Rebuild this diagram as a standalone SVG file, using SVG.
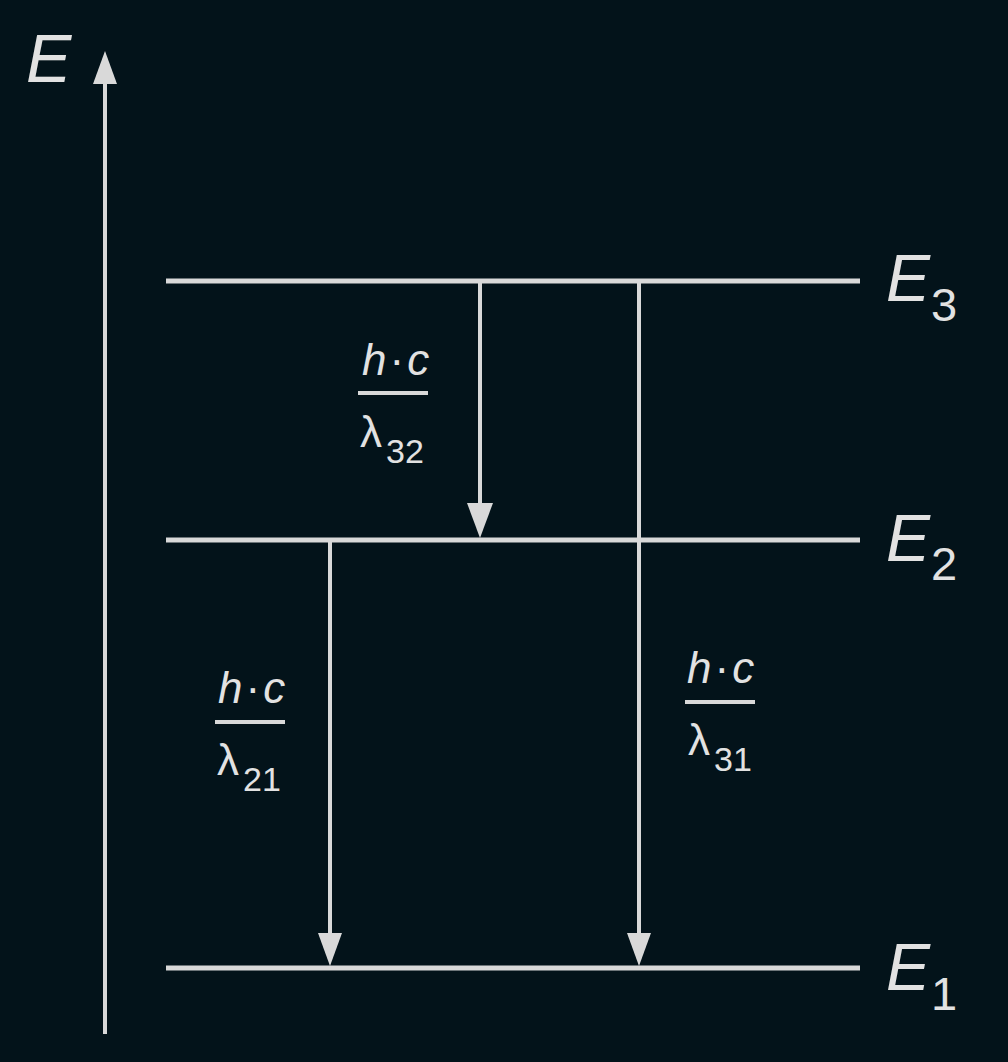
<svg xmlns="http://www.w3.org/2000/svg" width="1008" height="1062" viewBox="0 0 1008 1062">
<defs>
<style>
.ln{stroke:#d9d9d9;stroke-width:4;fill:none}
.lvl{stroke:#d9d9d9;stroke-width:5;fill:none}
.ah{fill:#d9d9d9}
text{font-family:"Liberation Sans",Arial,sans-serif;fill:#e2e2e2}
.it{font-style:italic}
.frac{font-size:44px}
.hc{letter-spacing:3px}
.sub{font-size:34px}
.big{font-size:66px}
.bsub{font-size:47px}
</style>
</defs>
<rect width="1008" height="1062" fill="#03131a"/>
<g id="axis">
<line class="ln" x1="105" y1="1034" x2="105" y2="80"/>
<polygon class="ah" points="105,51 93,84 117,84"/>
<text class="it" x="26" y="82" font-size="68">E</text>
</g>
<g id="E3">
<line class="lvl" x1="166" y1="281" x2="860" y2="281"/>
<text class="big it" x="886" y="301">E</text><text class="bsub" x="931" y="321">3</text>
</g>
<g id="E2">
<line class="lvl" x1="166" y1="540" x2="860" y2="540"/>
<text class="big it" x="886" y="561">E</text><text class="bsub" x="931" y="580">2</text>
</g>
<g id="E1">
<line class="lvl" x1="166" y1="968" x2="860" y2="968"/>
<text class="big it" x="886" y="990">E</text><text class="bsub" x="931" y="1010">1</text>
</g>
<g id="connectors">
<line class="ln" x1="480" y1="283" x2="480" y2="506"/>
<polygon class="ah" points="480,538 467,503 493,503"/>
<line class="ln" x1="639" y1="283" x2="639" y2="936"/>
<polygon class="ah" points="639,966 627,933 651,933"/>
<line class="ln" x1="330" y1="542" x2="330" y2="936"/>
<polygon class="ah" points="330,966 318,933 342,933"/>
</g>
<g id="label32">
<text class="frac hc" x="362" y="375"><tspan class="it">h</tspan>·<tspan class="it">c</tspan></text>
<line class="ln" x1="358" y1="393" x2="428" y2="393"/>
<text class="frac" x="360" y="447">λ</text><text class="sub" x="386" y="463">32</text>
</g>
<g id="label21">
<text class="frac hc" x="218" y="703"><tspan class="it">h</tspan>·<tspan class="it">c</tspan></text>
<line class="ln" x1="215" y1="722" x2="285" y2="722"/>
<text class="frac" x="217" y="775">λ</text><text class="sub" x="243" y="791">21</text>
</g>
<g id="label31">
<text class="frac hc" x="687" y="683"><tspan class="it">h</tspan>·<tspan class="it">c</tspan></text>
<line class="ln" x1="685" y1="702" x2="755" y2="702"/>
<text class="frac" x="688" y="755">λ</text><text class="sub" x="714" y="771">31</text>
</g>
</svg>
